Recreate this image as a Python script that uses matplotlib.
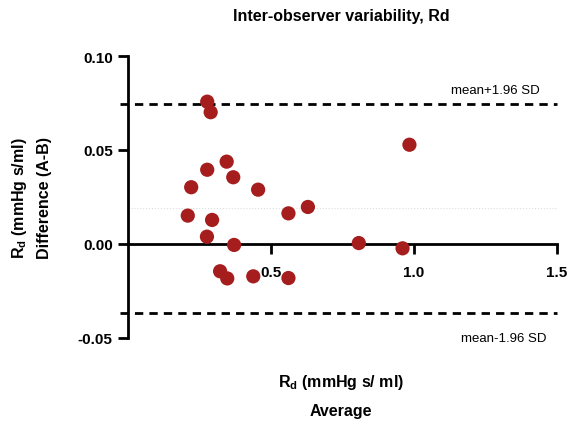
import matplotlib
matplotlib.use("Agg")
import matplotlib.pyplot as plt

avg = [0.277, 0.289, 0.984, 0.345, 0.277, 0.368, 0.221, 0.455, 0.629, 0.561,
       0.209, 0.294, 0.276, 0.371, 0.807, 0.960, 0.322, 0.347, 0.438, 0.561]
diff = [0.0757, 0.0701, 0.0528, 0.0438, 0.0395, 0.0355, 0.0302, 0.0289, 0.0197, 0.0163,
        0.0151, 0.0128, 0.0039, -0.0005, 0.0005, -0.0023, -0.0145, -0.0183, -0.0172, -0.0181]
upper_loa = 0.0745
lower_loa = -0.0367
mean_diff = 0.0189
x_ticks = [0.5, 1.0, 1.5]
x_tick_labels = ["0.5", "1.0", "1.5"]
y_ticks = [-0.05, 0.0, 0.05, 0.10]
y_tick_labels = ["-0.05", "0.00", "0.05", "0.10"]

plt.rcParams['font.family'] = ['Liberation Sans', 'DejaVu Sans']
plt.rcParams['mathtext.fontset'] = 'custom'
plt.rcParams['mathtext.rm'] = 'Liberation Sans:bold'
plt.rcParams['mathtext.bf'] = 'Liberation Sans:bold'

fig = plt.figure(figsize=(5.70, 4.31), dpi=100)
ax = fig.add_axes([128/570, 92/431, 429/570, 282/431])

ax.set_xlim(0, 1.5)
ax.set_ylim(-0.05, 0.10)

ax.plot([0, 1.5], [mean_diff, mean_diff], color='#dddddd', lw=0.8, ls=':', zorder=1)
ax.plot([-0.028, 1.5], [upper_loa, upper_loa], color='black', lw=2, ls=(0, (3.0, 2.2)), clip_on=False, zorder=2)
ax.plot([-0.028, 1.5], [lower_loa, lower_loa], color='black', lw=2, ls=(0, (3.0, 2.2)), clip_on=False, zorder=2)

ax.scatter(avg, diff, s=105, color='#a51d1d', edgecolors='none', zorder=3, clip_on=False)

for s in ['top', 'right']:
    ax.spines[s].set_visible(False)
ax.spines['bottom'].set_position(('data', 0.0))
ax.spines['left'].set_linewidth(2)
ax.spines['bottom'].set_linewidth(2)

ax.set_xticks(x_ticks)
ax.set_xticklabels(x_tick_labels, fontweight='bold', fontsize=11)
ax.set_yticks(y_ticks)
ax.set_yticklabels(y_tick_labels, fontweight='bold', fontsize=11)
ax.tick_params(axis='both', length=7, width=2, direction='out')
ax.tick_params(axis='x', pad=8)
ax.tick_params(axis='y', pad=4)

ax.text(1.44, 0.0785, "mean+1.96 SD", ha='right', va='bottom', fontsize=9.5)
ax.text(1.465, -0.050, "mean-1.96 SD", ha='right', va='center', fontsize=9.5)

fig.text(341/570, 1 - 17/431, "Inter-observer variability, Rd", ha='center', va='center',
         fontsize=11.5, fontweight='bold')
fig.text(341/570, 1 - 383/431, r"$\mathbf{R_d}$ (mmHg s/ ml)", ha='center', va='center',
         fontsize=11.5, fontweight='bold')
fig.text(341/570, 1 - 412/431, "Average", ha='center', va='center',
         fontsize=11.5, fontweight='bold')
fig.text(20/570, 1 - 198/431, r"$\mathbf{R_d}$ (mmHg s/ml)", ha='center', va='center',
         rotation=90, fontsize=11.5, fontweight='bold')
fig.text(45/570, 1 - 198/431, "Difference (A-B)", ha='center', va='center',
         rotation=90, fontsize=11.5, fontweight='bold')

fig.savefig("out.png", dpi=100)
